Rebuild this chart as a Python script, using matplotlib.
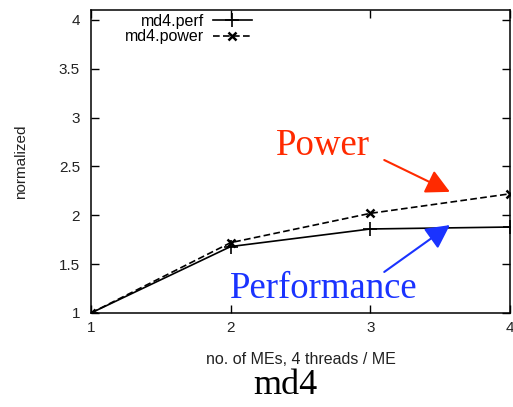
import matplotlib
matplotlib.use('Agg')
import matplotlib.pyplot as plt
import numpy as np

# data
mes = [1, 2, 3, 4]
perf = [1.0, 1.68, 1.86, 1.88]
power = [1.0, 1.72, 2.02, 2.22]

yticks = [1, 1.5, 2, 2.5, 3, 3.5, 4]
ytick_labels = ['1', '1.5', '2', '2.5', '3', '3.5', '4']

plt.rcParams['font.family'] = ['Liberation Sans', 'DejaVu Sans']

fig = plt.figure(figsize=(5.13, 4.07), dpi=100)
ax = fig.add_axes([0.1774, 0.231, 0.8166, 0.744])

# the two curves
ax.plot(mes, perf, color='black', lw=1.2, marker='+', ms=10, mew=1.2, label='md4.perf')
ax.plot(mes, power, color='black', lw=1.2, ls=(0, (4, 2)), marker='x', ms=6, mew=1.8,
        label='md4.power')

ax.set_xlim(1, 4)
ax.set_ylim(1, 4.1)
ax.set_xticks(mes)
ax.set_yticks(yticks)
ax.set_yticklabels(ytick_labels)
ax.tick_params(direction='in', length=6, width=1, top=True, right=True,
               labelsize=11, labelcolor='#222222')
ax.tick_params(axis='y', pad=8)
ax.tick_params(axis='x', pad=6)
for s in ax.spines.values():
    s.set_linewidth(1.1)

ax.set_xlabel('no. of MEs, 4 threads / ME', fontsize=11.5, color='#222222', labelpad=12)
ax.set_ylabel('normalized', fontsize=11, color='#222222', labelpad=22)

# gnuplot style key: text (right aligned) then sample
leg = ax.legend(loc='upper left', bbox_to_anchor=(0.065, 1.01), frameon=False,
                markerfirst=False, alignment='right', fontsize=11.5, handlelength=2.4,
                handletextpad=0.6, labelspacing=0.05, borderaxespad=0)

# callouts
ax.text(2.66, 2.71, 'Power', color='#ff2a00', fontsize=26.5, family='Liberation Serif',
        ha='center', va='center')
ax.annotate('', xy=(3.57, 2.24), xytext=(3.10, 2.566),
            arrowprops=dict(arrowstyle='-|>,head_length=1.45,head_width=0.75',
                            color='#ff2a00', lw=1.5, shrinkA=0, shrinkB=0))
ax.text(2.67, 1.25, 'Performance', color='#1a33ff', fontsize=26.5, family='Liberation Serif',
        ha='center', va='center')
ax.annotate('', xy=(3.57, 1.90), xytext=(3.10, 1.42),
            arrowprops=dict(arrowstyle='-|>,head_length=1.45,head_width=0.75',
                            color='#1a33ff', lw=1.5, shrinkA=0, shrinkB=0))

fig.text(0.557, 0.012, 'md4', fontsize=26, family='Liberation Serif', ha='center', va='bottom')

fig.savefig('out.png', dpi=100)
